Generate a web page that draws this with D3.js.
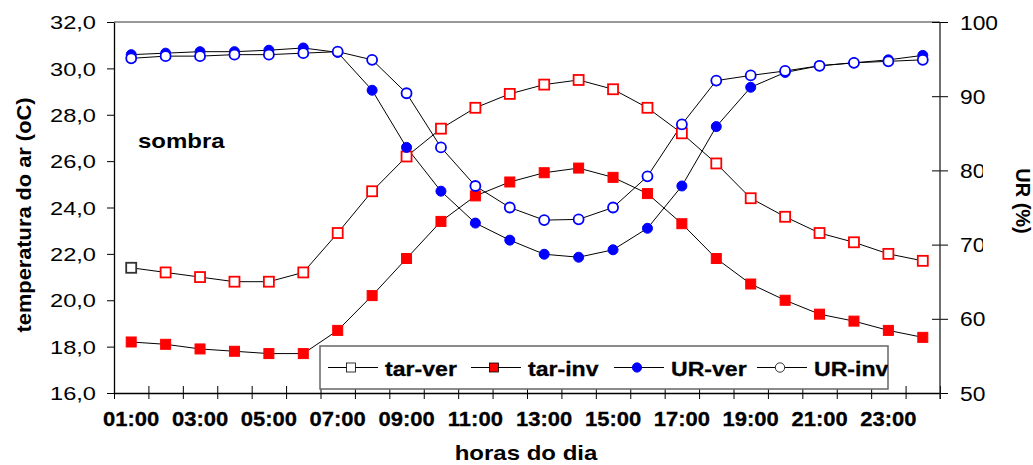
<!DOCTYPE html>
<html><head><meta charset="utf-8">
<script src="https://cdn.jsdelivr.net/npm/d3@7"></script>
<style>body{margin:0;background:#fff} text{font-family:Arial,"Liberation Sans",sans-serif;fill:#000}</style>
</head><body>
<svg id="c" width="1033" height="465"></svg>
<script>
const hours = ["01:00","02:00","03:00","04:00","05:00","06:00","07:00","08:00","09:00","10:00","11:00","12:00",
               "13:00","14:00","15:00","16:00","17:00","18:00","19:00","20:00","21:00","22:00","23:00","24:00"];
const xTickLabels = ["01:00","03:00","05:00","07:00","09:00","11:00","13:00","15:00","17:00","19:00","21:00","23:00"];
const tempTicks = [16,18,20,22,24,26,28,30,32];
const urTicks = [50,60,70,80,90,100];
const seriesNames = ["tar-ver","tar-inv","UR-ver","UR-inv"];
const tarVer = [21.4,21.2,21.0,20.8,20.8,21.2,22.9,24.7,26.2,27.4,28.3,28.9,29.3,29.5,29.1,28.3,27.2,25.9,24.4,23.6,22.9,22.5,22.0,21.7];
const tarInv = [18.2,18.1,17.9,17.8,17.7,17.7,18.7,20.2,21.8,23.4,24.5,25.1,25.5,25.7,25.3,24.6,23.3,21.8,20.7,20.0,19.4,19.1,18.7,18.4];
const urVer  = [95.6,95.8,96.0,96.0,96.2,96.5,95.9,90.8,83.1,77.2,72.9,70.6,68.7,68.3,69.3,72.2,77.9,85.9,91.2,93.2,94.1,94.5,94.9,95.5];
const urInv  = [95.1,95.4,95.4,95.6,95.6,95.8,96.0,94.9,90.4,83.1,77.9,75.0,73.3,73.4,75.0,79.2,86.2,92.1,92.8,93.4,94.1,94.5,94.7,94.9];

const L = 114, R = 940, T = 22, B = 393;
const svg = d3.select("#c");
const x = d3.scaleBand().domain(hours).range([L, R]);
const xi = d3.scaleLinear().domain([0, hours.length]).range([L, R]);
const yL = d3.scaleLinear().domain([16, 32]).range([B, T]);
const yR = d3.scaleLinear().domain([50, 100]).range([B, T]);
const cx = h => x(h) + x.bandwidth() / 2;

// top border
svg.append("line").attr("x1", L).attr("x2", R).attr("y1", T).attr("y2", T)
  .attr("stroke", "#777").attr("stroke-width", 1.3);

// bottom axis ticks (band boundaries)
const gb = svg.append("g").attr("transform", `translate(0,${B})`)
  .call(d3.axisBottom(xi).tickValues(d3.range(0, hours.length + 1)).tickFormat("").tickSize(6).tickSizeOuter(0));
gb.selectAll(".tick line").attr("y1", -7).attr("stroke", "#000");
gb.select(".domain").attr("stroke", "#000").attr("stroke-width", 1.3);

// bottom labels
const gbl = svg.append("g").attr("transform", `translate(0,${B})`)
  .call(d3.axisBottom(x).tickValues(xTickLabels).tickSize(0));
gbl.select(".domain").remove();
gbl.selectAll("text").attr("y", 33).attr("dy", null)
  .attr("font-size", 20).attr("font-weight", "bold").attr("font-family", null)
  .attr("stroke", "#000").attr("stroke-width", 0.3)
  .attr("transform", "scale(1.1,1)").attr("text-anchor", "middle");

// left axis
const gl = svg.append("g").attr("transform", `translate(${L},0)`)
  .call(d3.axisLeft(yL).tickValues(tempTicks).tickSize(7).tickSizeOuter(0)
    .tickFormat(d => d.toFixed(1).replace(".", ",")));
gl.select(".domain").attr("stroke", "#000").attr("stroke-width", 1.3);
gl.selectAll(".tick line").attr("stroke", "#000");
gl.selectAll("text").attr("x", 0).attr("dy", "0.36em").attr("font-size", 18.6).attr("font-family", null)
  .attr("text-anchor", "end").attr("transform", "translate(-18,0) scale(1.27,1)");

// right axis
const gr = svg.append("g").attr("transform", `translate(${R},0)`)
  .call(d3.axisRight(yR).tickValues(urTicks).tickSize(8).tickSizeOuter(0));
gr.select(".domain").remove();
gr.append("line").attr("x1", 0).attr("x2", 0).attr("y1", T).attr("y2", B + 6).attr("stroke", "#222").attr("stroke-width", 1.3);
gr.selectAll(".tick line").attr("x1", -8).attr("stroke", "#000");
gr.selectAll("text").attr("x", 0).attr("dy", "0.36em").attr("font-size", 19.5).attr("font-family", null)
  .attr("text-anchor", "start").attr("transform", "translate(20,0) scale(1.17,1)");

// right title (white box covering label ends)
svg.append("rect").attr("x", 983).attr("y", 158).attr("width", 50).attr("height", 100).attr("fill", "#fff");
svg.append("text").attr("transform", "translate(1016,201) rotate(90)")
  .attr("text-anchor", "middle").attr("font-size", 20).attr("font-weight", "bold").text("UR (%)");

// left title
svg.append("text").attr("transform", "translate(31,215) rotate(-90) scale(1.09,1)")
  .attr("text-anchor", "middle").attr("font-size", 20).attr("font-weight", "bold").text("temperatura do ar (oC)");

// x title
svg.append("text").attr("transform", "translate(526,460) scale(1.2,1)")
  .attr("text-anchor", "middle").attr("font-size", 20).attr("font-weight", "bold").text("horas do dia");

// sombra
svg.append("text").attr("transform", "translate(138,148) scale(1.2,1)")
  .attr("font-size", 20).attr("font-weight", "bold").text("sombra");

// series
const series = [
  {name: seriesNames[0], values: tarVer, y: yL, shape: "square", fill: "#fff", stroke: "#f00", size: 10},
  {name: seriesNames[1], values: tarInv, y: yL, shape: "square", fill: "#f00", stroke: "#f00", size: 10},
  {name: seriesNames[2], values: urVer, y: yR, shape: "circle", fill: "#00f", stroke: "#00f", size: 10},
  {name: seriesNames[3], values: urInv, y: yR, shape: "circle", fill: "#fff", stroke: "#00f", size: 10}
];

const plot = svg.append("g");
series.forEach(s => {
  const pts = hours.map((h, i) => ({h, v: s.values[i], i}));
  plot.append("path").datum(pts)
    .attr("d", d3.line().x(d => cx(d.h)).y(d => s.y(d.v)))
    .attr("fill", "none").attr("stroke", "#000").attr("stroke-width", 1);
});
series.forEach((s, si) => {
  const pts = hours.map((h, i) => ({h, v: s.values[i], i}));
  const g = plot.append("g");
  if (s.shape === "square") {
    g.selectAll("rect").data(pts).join("rect")
      .attr("x", d => cx(d.h) - s.size / 2).attr("y", d => s.y(d.v) - s.size / 2)
      .attr("width", s.size).attr("height", s.size)
      .attr("fill", s.fill)
      .attr("stroke", d => (si === 0 && d.i === 0) ? "#333" : s.stroke)
      .attr("stroke-width", s.fill === "#fff" ? 1.8 : 1);
  } else {
    g.selectAll("circle").data(pts).join("circle")
      .attr("cx", d => cx(d.h)).attr("cy", d => s.y(d.v)).attr("r", s.size / 2)
      .attr("fill", s.fill).attr("stroke", s.stroke)
      .attr("stroke-width", s.fill === "#fff" ? 1.8 : 1);
  }
});

// legend
const lg = svg.append("g");
const lgX = 320, lgY = 346, lgW = 568, lgH = 43;
svg.append("clipPath").attr("id", "lgclip").append("rect")
  .attr("x", lgX).attr("y", lgY).attr("width", lgW).attr("height", lgH);
lg.append("rect").attr("x", lgX).attr("y", lgY).attr("width", lgW).attr("height", lgH)
  .attr("fill", "#fff").attr("stroke", "#666").attr("stroke-width", 1.5);
const lgi = lg.append("g").attr("clip-path", "url(#lgclip)");
const legendMarks = [
  {fill: "#fff", stroke: "#000"}, {fill: "#f00", stroke: "#000"},
  {fill: "#00f", stroke: "#00f"}, {fill: "#fff", stroke: "#000"}
];
series.forEach((s, i) => {
  const x0 = 328 + i * 143, yc = 367.5;
  const item = lgi.append("g");
  item.append("line").attr("x1", x0).attr("x2", x0 + 50).attr("y1", yc).attr("y2", yc).attr("stroke", "#000");
  if (s.shape === "square") {
    item.append("rect").attr("x", x0 + 23 - 4.5).attr("y", yc - 4.5).attr("width", 9).attr("height", 9)
      .attr("fill", legendMarks[i].fill).attr("stroke", legendMarks[i].stroke).attr("stroke-width", 0.8);
  } else {
    item.append("circle").attr("cx", x0 + 23).attr("cy", yc).attr("r", 4.7)
      .attr("fill", legendMarks[i].fill).attr("stroke", legendMarks[i].stroke).attr("stroke-width", 0.8);
  }
  item.append("text").attr("transform", `translate(${x0 + 57},${yc + 8.5}) scale(1.1,1)`)
    .attr("font-size", 21).attr("font-weight", "bold").attr("stroke", "#000").attr("stroke-width", 0.3)
    .text(s.name);
});
</script>
</body></html>
